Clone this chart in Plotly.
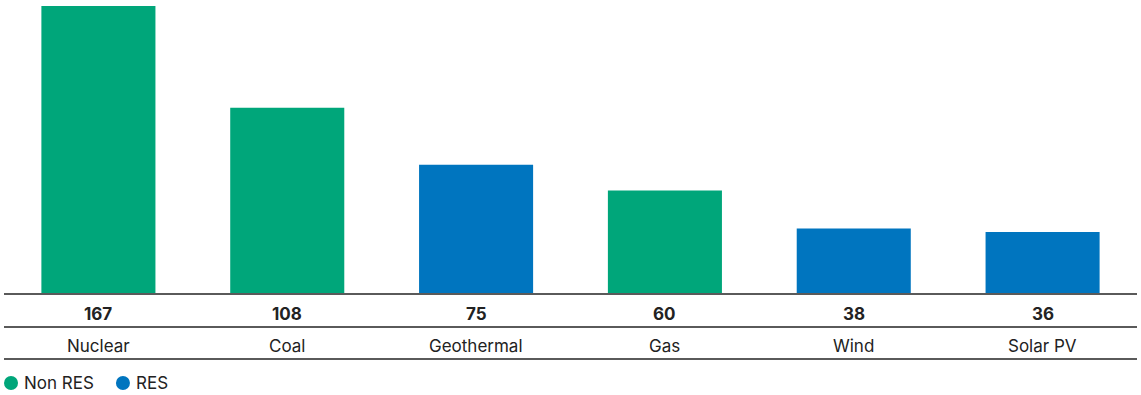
import plotly.graph_objects as go

categories = ["Nuclear", "Coal", "Geothermal", "Gas", "Wind", "Solar PV"]
values = [167, 108, 75, 60, 38, 36]
groups = ["Non RES", "Non RES", "RES", "Non RES", "RES", "RES"]
legend_labels = ["Non RES", "RES"]

colors = {"Non RES": "#00A67A", "RES": "#0075BF"}
font_family = "Inter, Roboto, Arial, sans-serif"
text_color = "#222222"
line_color = "#5a5a5a"

fig = go.Figure()

# One bar trace per group so every bar keeps its group colour
for g in legend_labels:
    xs = [c for c, gg in zip(categories, groups) if gg == g]
    ys = [v for v, gg in zip(values, groups) if gg == g]
    fig.add_trace(go.Bar(
        x=xs, y=ys, name=g, marker_color=colors[g], marker_line_width=0,
        showlegend=False, hoverinfo="x+y",
    ))

# Value row and category row beneath the bars
for c, v in zip(categories, values):
    fig.add_annotation(x=c, y=-0.071, xref="x", yref="paper", text=f"<b>{v}</b>",
                       showarrow=False, yanchor="middle",
                       font=dict(family=font_family, size=17, color=text_color))
    fig.add_annotation(x=c, y=-0.179, xref="x", yref="paper", text=c,
                       showarrow=False, yanchor="middle",
                       font=dict(family=font_family, size=17, color=text_color))

# Table rules
for yy in [0, -0.115, -0.226]:
    fig.add_shape(type="line", xref="paper", yref="paper", x0=0, x1=1, y0=yy, y1=yy,
                  line=dict(color=line_color, width=2))

# Legend: coloured dots with labels
legend_y = -0.309
for lx, tx, g in [(0.0062, 0.0155, "Non RES"), (0.105, 0.1145, "RES")]:
    fig.add_shape(type="circle", xref="paper", yref="paper",
                  xsizemode="pixel", ysizemode="pixel",
                  xanchor=lx, yanchor=legend_y, x0=-7, x1=7, y0=-7, y1=7,
                  fillcolor=colors[g], line=dict(width=0))
    fig.add_annotation(x=tx, y=legend_y, xref="paper", yref="paper", text=g,
                       showarrow=False, xanchor="left", yanchor="middle",
                       font=dict(family=font_family, size=17, color=text_color))

fig.update_layout(
    width=1141, height=395,
    margin=dict(l=4, r=4, t=6, b=101),
    plot_bgcolor="white", paper_bgcolor="white",
    barmode="overlay", bargap=0.396, showlegend=False,
    font=dict(family=font_family, size=17, color=text_color),
    xaxis=dict(categoryorder="array", categoryarray=categories, showticklabels=False,
               showgrid=False, zeroline=False, showline=False, ticks=""),
    yaxis=dict(range=[0, 167], showticklabels=False, showgrid=False,
               zeroline=False, showline=False, ticks=""),
)

fig.write_html("out.html")
